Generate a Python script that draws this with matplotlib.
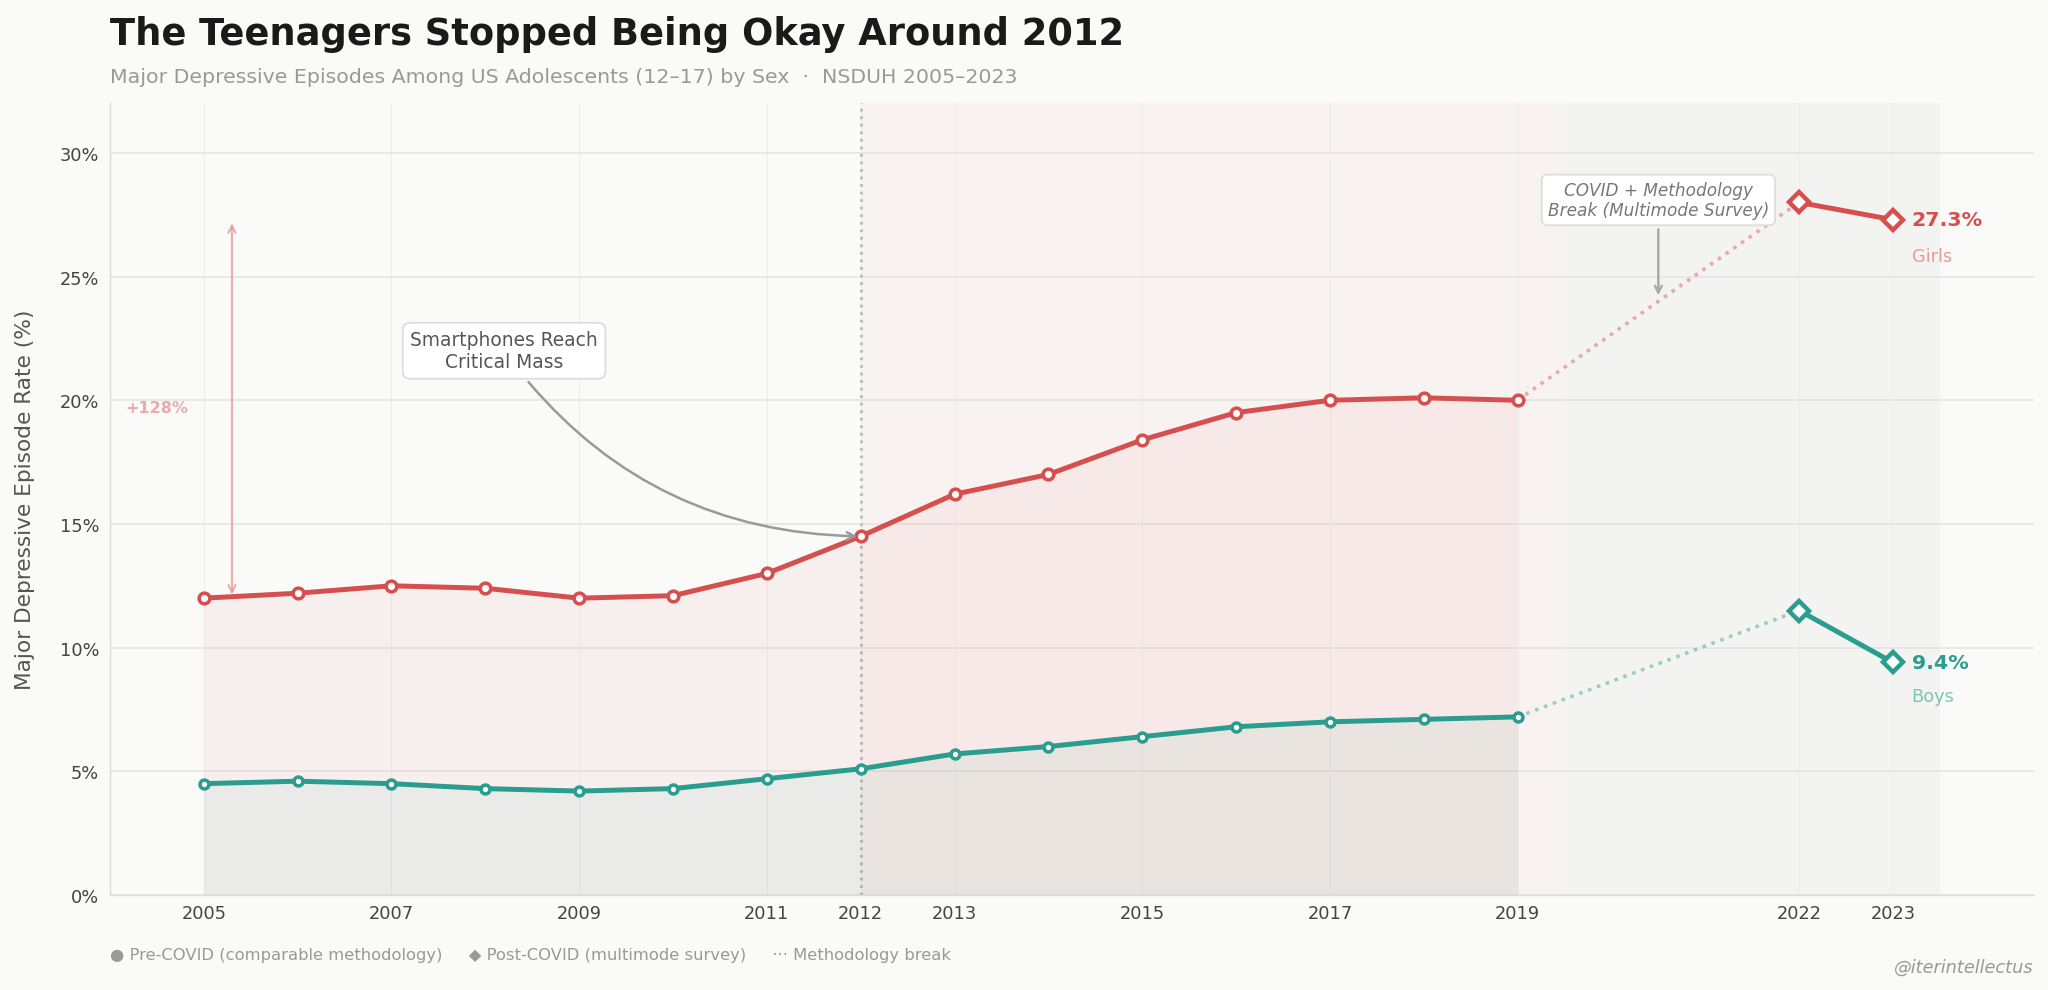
import matplotlib
matplotlib.use("Agg")
import matplotlib.pyplot as plt

plt.rcParams["font.family"] = ["DejaVu Sans"]

# ── data (NSDUH, % adolescents 12-17 with a major depressive episode) ──
years_pre = [2005, 2006, 2007, 2008, 2009, 2010, 2011, 2012,
             2013, 2014, 2015, 2016, 2017, 2018, 2019]
girls_pre = [12.0, 12.2, 12.5, 12.4, 12.0, 12.1, 13.0, 14.5,
             16.2, 17.0, 18.4, 19.5, 20.0, 20.1, 20.0]
boys_pre = [4.5, 4.6, 4.5, 4.3, 4.2, 4.3, 4.7, 5.1,
            5.7, 6.0, 6.4, 6.8, 7.0, 7.1, 7.2]

years_post = [2022, 2023]
girls_post = [28.0, 27.3]
boys_post = [11.5, 9.4]

xtick_years = [2005, 2007, 2009, 2011, 2012, 2013, 2015, 2017, 2019, 2022, 2023]
ytick_vals = [0, 5, 10, 15, 20, 25, 30]

RED = "#d64f4f"
RED_LIGHT = "#e89a9a"
TEAL = "#2a9d8f"
TEAL_LIGHT = "#7cc4bb"
BG = "#fafaf8"

fig = plt.figure(figsize=(16, 7.742), dpi=128, facecolor=BG)
ax = fig.add_axes([0.0537, 0.0959, 0.9393, 0.7987])
ax.set_facecolor(BG)

# ── background eras ──
ax.axvspan(2012, 2019.5, color=RED, alpha=0.04, lw=0, zorder=0)
ax.axvspan(2019.5, 2023.5, color="#888888", alpha=0.06, lw=0, zorder=0)
ax.axvline(2012, color="#bbbbbb", ls=":", lw=1.6, zorder=1)

# ── area fills ──
ax.fill_between(years_pre, girls_pre, 0, color=RED, alpha=0.06, lw=0, zorder=1)
ax.fill_between(years_pre, boys_pre, 0, color=TEAL, alpha=0.06, lw=0, zorder=1)

# ── methodology break connectors ──
ax.plot([years_pre[-1], years_post[0]], [girls_pre[-1], girls_post[0]],
        color=RED, alpha=0.45, ls=":", lw=2, zorder=2)
ax.plot([years_pre[-1], years_post[0]], [boys_pre[-1], boys_post[0]],
        color=TEAL, alpha=0.45, ls=":", lw=2, zorder=2)

# ── main series ──
ax.plot(years_pre, girls_pre, color=RED, lw=2.8, marker="o", ms=6,
        mfc="white", mec=RED, mew=2, zorder=4)
ax.plot(years_pre, boys_pre, color=TEAL, lw=2.8, marker="o", ms=5,
        mfc="white", mec=TEAL, mew=2, zorder=4)
ax.plot(years_post, girls_post, color=RED, lw=2.8, marker="D", ms=8,
        mfc="white", mec=RED, mew=2.5, zorder=4)
ax.plot(years_post, boys_post, color=TEAL, lw=2.8, marker="D", ms=8,
        mfc="white", mec=TEAL, mew=2.5, zorder=4)

# ── end labels ──
ax.text(2023.2, girls_post[-1], f"{girls_post[-1]:.1f}%", color=RED,
        fontsize=11.5, fontweight="bold", va="center", ha="left")
ax.text(2023.2, girls_post[-1] - 1.45, "Girls", color=RED_LIGHT,
        fontsize=10, va="center", ha="left")
ax.text(2023.2, boys_post[-1], f"{boys_post[-1]:.1f}%", color=TEAL,
        fontsize=11.5, fontweight="bold", va="center", ha="left")
ax.text(2023.2, boys_post[-1] - 1.35, "Boys", color=TEAL_LIGHT,
        fontsize=10, va="center", ha="left")

# ── annotations ──
ax.annotate("Smartphones Reach\nCritical Mass", xy=(2012, girls_pre[7]),
            xytext=(2008.2, 22.0), ha="center", va="center",
            fontsize=10.5, color="#555555",
            bbox=dict(boxstyle="round,pad=0.4", fc="white", ec="#dddddd", lw=1),
            arrowprops=dict(arrowstyle="->", color="#999999", lw=1.4,
                            connectionstyle="arc3,rad=0.25"), zorder=6)

ax.annotate("COVID + Methodology\nBreak (Multimode Survey)", xy=(2020.5, 24.1),
            xytext=(2020.5, 28.1), ha="center", va="center",
            fontsize=9.5, color="#777777", style="italic",
            bbox=dict(boxstyle="round,pad=0.35", fc="white", ec="#dddddd", lw=1),
            arrowprops=dict(arrowstyle="->", color="#aaaaaa", lw=1.4), zorder=6)

ax.annotate("", xy=(2005.3, girls_pre[0]), xytext=(2005.3, girls_post[-1]),
            arrowprops=dict(arrowstyle="<->", color=RED_LIGHT, lw=1.2, alpha=0.8))
pct = (girls_post[-1] - girls_pre[0]) / girls_pre[0] * 100
ax.text(2004.5, 19.7, f"+{pct:.0f}%", color="#eaaaaa", fontsize=9,
        fontweight="bold", ha="center", va="center")

# ── axes styling ──
ax.set_xlim(2004, 2024.5)
ax.set_ylim(0, 32)
ax.set_xticks(xtick_years)
ax.set_xticklabels([str(y) for y in xtick_years])
ax.set_yticks(ytick_vals)
ax.set_yticklabels([f"{v}%" for v in ytick_vals])
ax.tick_params(length=0, labelsize=10, colors="#444444")
ax.tick_params(axis="x", pad=5)
ax.tick_params(axis="y", pad=6)
ax.grid(axis="y", color="#e4e4e4", lw=0.9, zorder=0)
ax.grid(axis="x", color="#eeeeee", lw=0.6, zorder=0)
ax.set_axisbelow(True)
for s in ("top", "right"):
    ax.spines[s].set_visible(False)
for s in ("left", "bottom"):
    ax.spines[s].set_color("#dddddd")
ax.set_ylabel("Major Depressive Episode Rate (%)", fontsize=12.2, color="#555555",
              labelpad=14)

# ── titles & footer ──
fig.text(0.0537, 0.955, "The Teenagers Stopped Being Okay Around 2012",
         fontsize=20.7, fontweight="bold", color="#1a1a1a", va="baseline")
fig.text(0.0537, 0.916,
         "Major Depressive Episodes Among US Adolescents (12–17) by Sex  ·  NSDUH 2005–2023",
         fontsize=11.5, color="#999999", va="baseline")
fig.text(0.0537, 0.031,
         "● Pre-COVID (comparable methodology)     ◆ Post-COVID (multimode survey)     ··· Methodology break",
         fontsize=9.2, color="#999999", va="baseline")
fig.text(0.993, 0.018, "@iterintellectus", fontsize=10, color="#999999",
         style="italic", ha="right", va="baseline")

fig.savefig("out.png", dpi=128, facecolor=BG)
